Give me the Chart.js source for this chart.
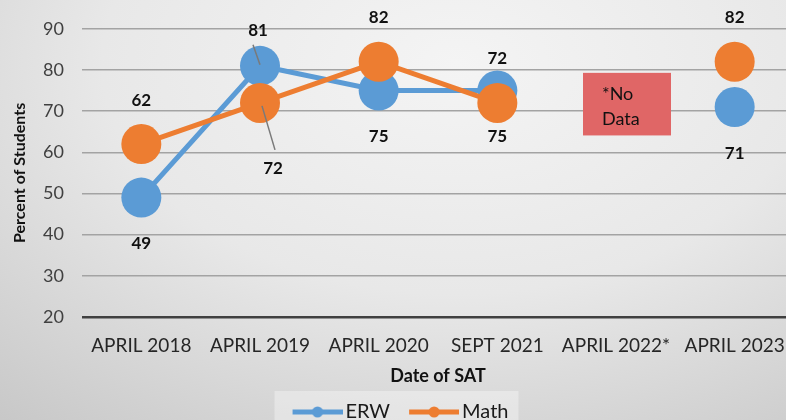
<!DOCTYPE html>
<html>
<head>
<meta charset="utf-8">
<script src="https://cdn.jsdelivr.net/npm/chart.js@4.4.0/dist/chart.umd.min.js"></script>
<style>
html, body { margin: 0; padding: 0; overflow: hidden; width: 786px; height: 420px;
  background: radial-gradient(ellipse 90% 110% at 58% 15%, #f4f4f4 0%, #e8e8e8 50%, #c5c5c5 105%); }
#wrap { width: 794px; height: 432px; }
</style>
</head>
<body>
<div id="wrap"><canvas id="grafico" width="794" height="432"></canvas></div>
<script>
// dados do gráfico
const categorias = ['APRIL 2018', 'APRIL 2019', 'APRIL 2020', 'SEPT 2021', 'APRIL 2022*', 'APRIL 2023'];
const valoresERW = [49, 81, 75, 75, null, 71];
const valoresMath = [62, 72, 82, 72, null, 82];
const ticksY = [20, 30, 40, 50, 60, 70, 80, 90];

const azul = '#5B9BD5';
const laranja = '#ED7D31';
const fonte = 'Lato, "Open Sans", sans-serif';

// onde fica cada rótulo (acima / abaixo / com linha de chamada)
const posRotulos = [
  ['below', 'leaderUp', 'below', 'below', null, 'below'],
  ['above', 'leaderDown', 'above', 'above', null, 'above']
];

Chart.defaults.font.family = fonte;

// marcador da legenda: linha grossa com bolinha (imagem 64px, caixa 50px)
function criaMarcador(cor) {
  const c = document.createElement('canvas');
  c.width = 64; c.height = 14;
  const g = c.getContext('2d');
  g.strokeStyle = cor; g.lineWidth = 5;
  g.beginPath(); g.moveTo(14, 7); g.lineTo(64, 7); g.stroke();
  g.fillStyle = cor;
  g.beginPath(); g.arc(39, 7, 5.5, 0, Math.PI * 2); g.fill();
  return c;
}
const marcadores = [criaMarcador(azul), criaMarcador(laranja)];

const fundoLegenda = {
  id: 'fundoLegenda',
  beforeDraw(chart) {
    const caixas = chart.legend && chart.legend.legendHitBoxes;
    if (!caixas || !caixas.length) return;
    const ctx = chart.ctx;
    const esq = caixas[0].left + 7 - 18;
    const ult = caixas[caixas.length - 1];
    const dir = ult.left + ult.width + 10;
    ctx.save();
    ctx.fillStyle = 'rgba(255,255,255,0.35)';
    ctx.fillRect(esq, 391, dir - esq, 45);
    ctx.restore();
  }
};

const semDados = {
  id: 'semDados',
  afterDatasetsDraw(chart) {
    const x = chart.scales.x.getPixelForValue(4);
    const y = chart.scales.y;
    const topo = y.getPixelForValue(79.3);
    const base = y.getPixelForValue(64.1);
    const ctx = chart.ctx;
    ctx.save();
    ctx.fillStyle = '#E06666';
    ctx.fillRect(x - 33, topo, 88, base - topo);
    ctx.fillStyle = '#111';
    ctx.font = '18px ' + fonte;
    ctx.textAlign = 'left';
    ctx.textBaseline = 'middle';
    ctx.fillText('*No', x - 14, topo + 21);
    ctx.fillText('Data', x - 14, topo + 46);
    ctx.restore();
  }
};

const rotulos = {
  id: 'rotulos',
  afterDatasetsDraw(chart) {
    const ctx = chart.ctx;
    ctx.save();
    ctx.font = 'bold 17px ' + fonte;
    ctx.textAlign = 'center';
    ctx.textBaseline = 'middle';
    chart.data.datasets.forEach((ds, i) => {
      const meta = chart.getDatasetMeta(i);
      meta.data.forEach((pt, j) => {
        const v = ds.data[j];
        const pos = posRotulos[i][j];
        if (v == null || !pos) return;
        let lx = pt.x, ly = pt.y;
        if (pos === 'above') ly -= 44;
        else if (pos === 'below') ly += 46;
        else {
          ctx.strokeStyle = '#7a7a7a';
          ctx.lineWidth = 1.5;
          ctx.beginPath();
          if (pos === 'leaderUp') {
            lx -= 2; ly -= 35;
            ctx.moveTo(pt.x - 7, pt.y - 21); ctx.lineTo(pt.x, pt.y - 1);
          } else {
            lx += 13; ly += 66;
            ctx.moveTo(pt.x + 2, pt.y + 3); ctx.lineTo(pt.x + 15, pt.y + 47);
          }
          ctx.stroke();
        }
        ctx.fillStyle = '#111';
        ctx.fillText(String(v), lx, ly);
      });
    });
    ctx.restore();
  }
};

new Chart(document.getElementById('grafico'), {
  type: 'line',
  data: {
    labels: categorias,
    datasets: [
      {
        label: 'ERW', data: valoresERW, order: 2,
        borderColor: azul, backgroundColor: azul, borderWidth: 5,
        pointRadius: 20, pointHoverRadius: 20, pointBorderWidth: 0,
        pointBackgroundColor: azul, spanGaps: false, tension: 0
      },
      {
        label: 'Math', data: valoresMath, order: 1,
        borderColor: laranja, backgroundColor: laranja, borderWidth: 5,
        pointRadius: 20, pointHoverRadius: 20, pointBorderWidth: 0,
        pointBackgroundColor: laranja, spanGaps: false, tension: 0
      }
    ]
  },
  options: {
    responsive: false,
    animation: false,
    events: [],
    layout: { autoPadding: false, padding: { top: 27, right: 0, left: 0, bottom: 0 } },
    plugins: {
      tooltip: { enabled: false },
      legend: {
        position: 'bottom',
        labels: {
          usePointStyle: true,
          pointStyleWidth: 50,
          boxHeight: 20,
          padding: 12,
          color: '#1a1a1a',
          font: { size: 20 },
          sort: (a, b) => a.datasetIndex - b.datasetIndex,
          generateLabels(chart) {
            const itens = Chart.defaults.plugins.legend.labels.generateLabels(chart);
            itens.forEach(it => { it.pointStyle = marcadores[it.datasetIndex]; });
            return itens;
          }
        }
      }
    },
    scales: {
      x: {
        offset: true,
        grid: { display: false, drawTicks: false },
        border: { display: false },
        ticks: { color: '#262626', font: { size: 19 }, padding: 17, maxRotation: 0, autoSkip: false },
        title: { display: true, text: 'Date of SAT', color: '#111', font: { size: 18, weight: 'bold' }, padding: { top: 0, bottom: 3 } },
        afterFit: s => { s.height = 73; s.paddingLeft = 0; s.paddingRight = 0; }
      },
      y: {
        min: 20, max: 90,
        afterBuildTicks: s => { s.ticks = ticksY.map(v => ({ value: v })); },
        grid: {
          drawTicks: false,
          color: c => (c.tick && c.tick.value === 20 ? '#404040' : '#a3a3a3'),
          lineWidth: c => (c.tick && c.tick.value === 20 ? 2.5 : 1.5)
        },
        border: { display: false },
        ticks: { color: '#404040', font: { size: 18 }, padding: 18 },
        title: { display: true, text: 'Percent of Students', color: '#111', font: { size: 16, weight: 'bold' }, padding: { top: 10, bottom: 0 } },
        afterFit: s => { s.width = 82; }
      }
    }
  },
  plugins: [fundoLegenda, semDados, rotulos]
});
</script>
</body>
</html>
